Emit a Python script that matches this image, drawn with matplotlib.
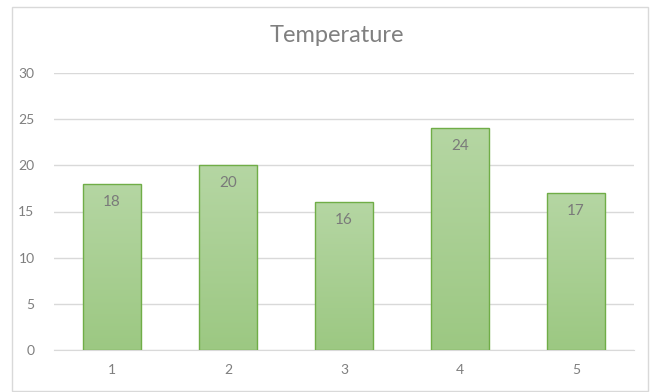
import numpy as np
import matplotlib.pyplot as plt
from matplotlib.patches import Rectangle
from matplotlib.colors import LinearSegmentedColormap

categories = ['1', '2', '3', '4', '5']
temperature = [18, 20, 16, 24, 17]
y_ticks = [0, 5, 10, 15, 20, 25, 30]

plt.rcParams['font.family'] = ['Lato', 'DejaVu Sans']

fig = plt.figure(figsize=(6.57, 3.92), dpi=100)
ax = fig.add_axes([54 / 657, 42 / 392, 580 / 657, 277 / 392])

# outer chart frame
fig.patches.append(Rectangle((12 / 657, 1 / 392), 636 / 657, 384 / 392,
                             transform=fig.transFigure, fill=False,
                             edgecolor='#d9d9d9', linewidth=1))

x = np.arange(len(categories))
bars = ax.bar(x, temperature, width=0.5, color='none',
              edgecolor='#70ad47', linewidth=1, zorder=3)

# vertical gradient fill inside each bar
grad = LinearSegmentedColormap.from_list('g', ['#9cc882', '#b5d6a3'])
ramp = np.linspace(0, 1, 256).reshape(-1, 1)
for b in bars:
    x0, w, h = b.get_x(), b.get_width(), b.get_height()
    im = ax.imshow(ramp, cmap=grad, origin='lower', aspect='auto',
                   extent=[x0, x0 + w, 0, h], zorder=2)
    im.set_clip_path(b)

for xi, v in zip(x, temperature):
    ax.annotate(str(v), (xi, v), xytext=(0, -18), textcoords='offset pixels',
                ha='center', va='center', fontsize=11, color='#7a7a7a', zorder=4)

ax.set_xlim(-0.5, len(categories) - 0.5)
ax.set_ylim(0, 30)
ax.set_yticks(y_ticks)
ax.set_xticks(x)
ax.set_xticklabels(categories)
ax.grid(axis='y', color='#d9d9d9', linewidth=1, zorder=0)
ax.set_axisbelow(True)
for s in ['top', 'right', 'left']:
    ax.spines[s].set_visible(False)
ax.spines['bottom'].set_color('#d9d9d9')
ax.tick_params(length=0, labelsize=10, colors='#7f7f7f')
ax.tick_params(axis='y', pad=14)
ax.tick_params(axis='x', pad=10)

fig.text(337 / 657, 1 - 36 / 392, 'Temperature', ha='center', va='center',
         fontsize=17, color='#808080')

fig.savefig('out.png', dpi=100)
